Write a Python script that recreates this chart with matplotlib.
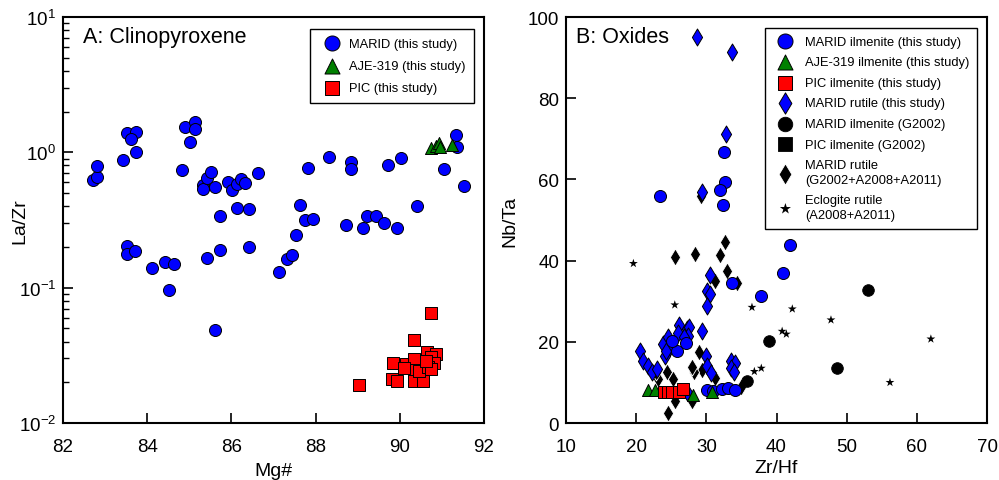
import numpy as np
import matplotlib
matplotlib.use("Agg")
import matplotlib.pyplot as plt

plt.rcParams['font.family'] = ['Liberation Sans', 'DejaVu Sans']
plt.rcParams['mathtext.fontset'] = 'custom'
plt.rcParams['mathtext.rm'] = 'Liberation Sans'
plt.rcParams['mathtext.it'] = 'Liberation Sans:italic'

# --- Panel A: clinopyroxene (Mg#, La/Zr) ---
marid_mg = [82.71, 82.82, 82.82, 83.42, 83.52, 83.74, 83.62, 83.73, 84.83, 84.90,
            85.13, 85.13, 85.02, 85.33, 85.33, 85.42, 85.52, 85.62, 85.74, 85.92,
            86.01, 86.13, 86.22, 86.33, 86.13, 86.43, 86.64, 87.63, 87.53, 87.74,
            87.94, 87.82, 88.33, 88.83, 88.83, 88.73, 89.13, 89.23, 89.43, 89.63,
            89.93, 89.73, 90.03, 90.42, 91.04, 91.33, 91.35, 91.53,
            83.52, 83.52, 83.71, 84.12, 84.42, 84.63, 84.52, 85.42, 85.74, 85.61,
            86.43, 87.13, 87.33, 87.43]
marid_lazr = [0.62, 0.66, 0.79, 0.88, 1.39, 1.41, 1.25, 1.00, 0.74, 1.55,
              1.69, 1.50, 1.19, 0.57, 0.54, 0.65, 0.72, 0.55, 0.34, 0.60,
              0.53, 0.58, 0.64, 0.59, 0.39, 0.38, 0.70, 0.41, 0.245, 0.316,
              0.32, 0.77, 0.92, 0.85, 0.75, 0.29, 0.275, 0.34, 0.34, 0.30,
              0.275, 0.81, 0.91, 0.40, 0.75, 1.35, 1.09, 0.56,
              0.204, 0.177, 0.187, 0.140, 0.155, 0.149, 0.0966, 0.166, 0.19, 0.0486,
              0.20, 0.131, 0.163, 0.175]
aje_mg = [90.74, 90.86, 90.93, 90.96, 91.23]
aje_lazr = [1.08, 1.12, 1.18, 1.10, 1.14]
pic_mg = [89.03, 90.74, 90.34, 89.84, 89.82, 89.94, 90.14, 90.34, 90.34, 90.33,
          90.54, 90.10, 90.46, 90.64, 90.86, 90.74, 90.82, 90.66, 90.74, 90.62]
pic_lazr = [0.0192, 0.0646, 0.0412, 0.0277, 0.0213, 0.0203, 0.0272, 0.0296, 0.0246, 0.0205,
            0.0203, 0.0257, 0.0243, 0.0336, 0.0323, 0.0310, 0.0277, 0.0258, 0.0250, 0.0288]

# --- Panel B: oxides (Zr/Hf, Nb/Ta) ---
ilm_zrhf = [23.40, 32.56, 32.66, 31.95, 32.42, 41.92, 40.97, 33.6, 37.8,
            25.77, 27.1, 25.06, 30.14, 31.0, 32.18, 33.13, 34.08]
ilm_nbta = [56.0, 66.7, 59.3, 57.5, 53.8, 43.8, 36.9, 34.6, 31.2,
            17.8, 19.7, 20.3, 8.2, 8.0, 8.4, 8.5, 8.1]
aje_zrhf = [21.73, 22.68, 30.75, 28.1]
aje_nbta = [8.2, 8.2, 7.6, 6.9]
picilm_zrhf = [23.97, 24.58, 25.06, 26.15, 26.63]
picilm_nbta = [7.7, 7.7, 7.7, 7.6, 8.4]
rut_zrhf = [28.67, 33.70, 32.8, 29.43, 30.52, 30.05, 30.5, 30.05, 29.43,
            26.15, 26.0, 27.2, 27.57, 27.43, 26.82, 23.78, 24.58, 24.82, 24.1, 24.25,
            20.55, 21.0, 21.7, 22.2, 22.9, 29.95, 30.05, 30.6,
            33.5, 34.1, 33.47, 33.99, 27.2]
rut_nbta = [95.0, 91.3, 71.2, 57.0, 36.5, 32.6, 31.8, 28.9, 22.6,
            24.1, 22.2, 23.2, 23.6, 21.5, 21.1, 19.5, 21.1, 18.6, 16.6, 17.8,
            17.8, 15.3, 14.1, 12.5, 13.3, 16.4, 14.1, 12.3,
            15.3, 14.8, 13.5, 12.5, 7.6]
g_ilm_zrhf = [53.1, 38.93, 48.66, 35.75]
g_ilm_nbta = [32.8, 20.3, 13.5, 10.3]
g_pic_zrhf = []
g_pic_nbta = []
g_rut_zrhf = [29.24, 25.53, 28.43, 31.99, 32.7, 32.99, 34.41, 31.23,
              29.0, 29.33, 28.24, 28.0, 23.16, 24.35, 25.2, 24.58, 25.53, 27.9,
              31.23, 35.0, 22.83]
g_rut_nbta = [56.0, 40.8, 41.7, 41.5, 44.5, 37.5, 34.6, 35.1,
              17.6, 13.1, 12.5, 13.7, 10.8, 12.5, 10.8, 2.4, 5.3, 5.3,
              11.0, 8.8, 12.5]
ecl_zrhf = [19.6, 25.5, 36.5, 42.25, 47.76, 62.0, 56.17, 40.8, 41.4, 36.84, 37.83]
ecl_nbta = [39.3, 29.1, 28.5, 28.1, 25.4, 20.7, 10.0, 22.6, 21.9, 12.7, 13.5]

BLUE = '#0000ff'
GREEN = '#008000'
RED = '#ff0000'

fig = plt.figure(figsize=(9.99, 4.81), dpi=100)
axA = fig.add_axes([0.063, 0.1185, 0.4215, 0.844])
axB = fig.add_axes([0.5666, 0.1185, 0.4214, 0.844])

kw = dict(edgecolors='black', linewidths=0.7)
axA.scatter(marid_mg, marid_lazr, s=75, marker='o', c=BLUE, label='MARID (this study)', **kw)
axA.scatter(pic_mg, pic_lazr, s=70, marker='s', c=RED, label='PIC (this study)', **kw)
axA.scatter(aje_mg, aje_lazr, s=75, marker='^', c=GREEN, label='AJE-319 (this study)', **kw)
axA.set_yscale('log')
axA.set_xlim(82, 92)
axA.set_ylim(0.01, 10)
axA.set_xticks([82, 84, 86, 88, 90, 92])
axA.set_xlabel('Mg#', fontsize=14, va='center')
axA.set_ylabel('La/Zr', fontsize=14, va='center')
axA.xaxis.set_label_coords(0.5, -0.118)
axA.yaxis.set_label_coords(-0.102, 0.5)
axA.text(0.048, 0.953, 'A: Clinopyroxene', transform=axA.transAxes, fontsize=15.5, va='center')
h, l = axA.get_legend_handles_labels()
order = [0, 2, 1]
legA = axA.legend([h[i] for i in order], [l[i] for i in order], loc='upper right',
                  bbox_to_anchor=(0.976, 0.97), borderaxespad=0, fontsize=9.3,
                  fancybox=False, edgecolor='black', framealpha=1, markerscale=1.25,
                  labelspacing=0.8, borderpad=0.65, handletextpad=0.35)
legA.get_frame().set_linewidth(1.0)

axB.scatter(ecl_zrhf, ecl_nbta, s=45, marker='*', c='black', edgecolors='none',
            label='Eclogite rutile\n(A2008+A2011)')
axB.scatter(g_rut_zrhf, g_rut_nbta, s=75, marker='d', c='black', edgecolors='white',
            linewidths=0.6, label='MARID rutile\n(G2002+A2008+A2011)')
axB.scatter(g_ilm_zrhf, g_ilm_nbta, s=70, marker='o', c='black', edgecolors='black',
            linewidths=0.6, label='MARID ilmenite (G2002)')
axB.scatter(g_pic_zrhf, g_pic_nbta, s=70, marker='s', c='black', edgecolors='black',
            linewidths=0.6, label='PIC ilmenite (G2002)')
axB.scatter(rut_zrhf, rut_nbta, s=75, marker='d', c=BLUE, label='MARID rutile (this study)', **kw)
axB.scatter(ilm_zrhf, ilm_nbta, s=75, marker='o', c=BLUE, label='MARID ilmenite (this study)', **kw)
axB.scatter(aje_zrhf, aje_nbta, s=75, marker='^', c=GREEN, label='AJE-319 ilmenite (this study)', **kw)
axB.scatter(picilm_zrhf, picilm_nbta, s=70, marker='s', c=RED, label='PIC ilmenite (this study)', **kw)
axB.set_xlim(10, 70)
axB.set_ylim(0, 100)
axB.set_xticks(np.arange(10, 71, 10))
axB.set_yticks(np.arange(0, 101, 20))
axB.set_xlabel('Zr/Hf', fontsize=14, va='center')
axB.set_ylabel('Nb/Ta', fontsize=14, va='center')
axB.xaxis.set_label_coords(0.5, -0.11)
axB.yaxis.set_label_coords(-0.133, 0.5)
axB.text(0.024, 0.953, 'B: Oxides', transform=axB.transAxes, fontsize=15.5, va='center')
h, l = axB.get_legend_handles_labels()
order = [5, 6, 7, 4, 2, 3, 1, 0]
legB = axB.legend([h[i] for i in order], [l[i] for i in order], loc='upper right',
                  bbox_to_anchor=(0.976, 0.973), borderaxespad=0, fontsize=9.3,
                  fancybox=False, edgecolor='black', framealpha=1, markerscale=1.25,
                  labelspacing=0.66, borderpad=0.6, handletextpad=0.5)
legB.get_frame().set_linewidth(1.0)
for t in legB.get_texts():
    t.set_linespacing(1.3)

for ax in (axA, axB):
    for sp in ax.spines.values():
        sp.set_linewidth(1.5)
    ax.tick_params(axis='both', which='major', direction='in', length=7, width=1.2,
                   labelsize=13.5, top=False, right=False)
    ax.tick_params(axis='both', which='minor', direction='in', length=4, width=1.0,
                   top=False, right=False)
    ax.tick_params(axis='x', which='major', pad=11)
    ax.tick_params(axis='y', which='major', pad=5)
axA.tick_params(axis='x', which='minor', bottom=False)

fig.savefig('out.png', dpi=100)
